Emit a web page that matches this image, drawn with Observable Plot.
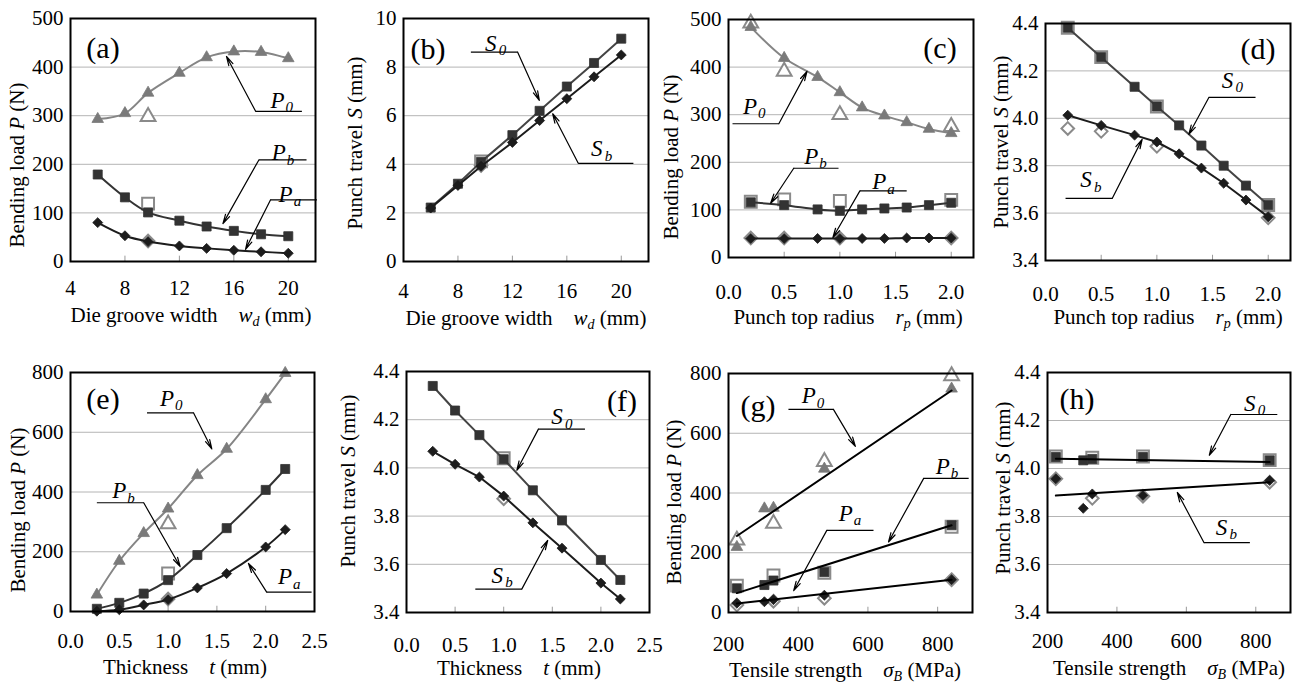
<!DOCTYPE html>
<html><head><meta charset="utf-8">
<script src="https://cdn.jsdelivr.net/npm/d3@7"></script>
<script src="https://cdn.jsdelivr.net/npm/@observablehq/plot@0.6"></script>
<style>
body{margin:0;background:#fff;}
#wrap{position:relative;width:1298px;height:685px;overflow:hidden;background:#fff;font-family:'Liberation Serif','DejaVu Serif',serif;}
#wrap svg{position:absolute;}
#wrap svg text, #wrap svg tspan{font-family:'Liberation Serif','DejaVu Serif',serif;}
</style></head><body><div id="wrap"></div>
<script>
// ---------- DATA ----------
// (a) die groove width vs bending load
const wdX = [6, 8, 9.7, 12, 14, 16, 18, 20];
const aP0 = [293, 305, 347, 388, 420, 432, 431, 418];
const aPb = [179, 132, 101, 84, 72, 63, 56, 52];
const aPa = [80, 53, 41, 32, 27, 23, 20, 17];
const wdExpX = [9.7];
const aP0exp = [298];
const aPbExp = [119];
const aPaExp = [42];
// (b) die groove width vs punch travel
const bS0 = [2.22, 3.2, 4.1, 5.2, 6.2, 7.2, 8.17, 9.17];
const bSb = [2.2, 3.13, 3.92, 4.9, 5.8, 6.7, 7.6, 8.5];
const bS0exp = [4.12];
const bSbExp = [3.95];
// (c) punch top radius vs bending load
const rpX = [0.2, 0.5, 0.8, 1.0, 1.2, 1.4, 1.6, 1.8, 2.0];
const cP0 = [484, 419, 379, 347, 315, 298, 284, 270, 261];
const cPb = [116, 110, 101, 98, 101, 103, 105, 110, 115];
const cPa = [40, 40, 40, 40, 40, 40, 41, 41, 41];
const rpExpX = [0.2, 0.5, 1.0, 2.0];
const cP0exp = [492, 391, 300, 275];
const cPbExp = [117, 122, 119, 121];
const cPaExp = [41, 41, 41, 41];
// (d) punch top radius vs punch travel
const dS0 = [4.382, 4.258, 4.133, 4.05, 3.97, 3.885, 3.80, 3.716, 3.634];
const dSb = [4.013, 3.97, 3.929, 3.90, 3.85, 3.79, 3.726, 3.655, 3.584];
const dS0exp = [4.382, 4.258, 4.05, 3.634];
const dSbExp = [3.957, 3.945, 3.882, 3.58];
// (e) thickness vs bending load
const tX = [0.27, 0.5, 0.75, 1.0, 1.3, 1.6, 2.0, 2.2];
const eP0 = [56, 169, 262, 344, 456, 544, 710, 798];
const ePb = [9, 29, 60, 105, 189, 279, 407, 477];
const ePa = [1, 6, 22, 40, 79, 127, 216, 274];
const tExpX = [1.0];
const eP0exp = [293];
const ePbExp = [127];
const ePaExp = [42];
// (f) thickness vs punch travel
const fS0 = [4.34, 4.238, 4.136, 4.036, 3.907, 3.782, 3.618, 3.535];
const fSb = [4.069, 4.015, 3.962, 3.883, 3.772, 3.667, 3.522, 3.456];
const fS0exp = [4.04];
const fSbExp = [3.872];
// (g) tensile strength vs bending load
const sigX = [224, 303, 329, 475, 840];
const gP0 = [219, 348, 350, 481, 749];
const gPb = [81, 92, 107, 135, 292];
const gPa = [31, 36, 43, 58, 110];
const sigExpX = [224, 329, 475, 840];
const gP0exp = [242, 298, 505, 792];
const gPbExp = [90, 124, 133, 287];
const gPaExp = [25, 38, 48, 110];
const fitX = [224, 840];
const gP0fit = [256, 743];
const gPbFit = [65, 292];
const gPaFit = [30, 110];
// (h) tensile strength vs punch travel
const hS0 = [4.048, 4.034, 4.04, 4.048, 4.034];
const hSb = [3.957, 3.834, 3.894, 3.887, 3.95];
const hS0exp = [4.05, 4.045, 4.05, 4.035];
const hSbExp = [3.957, 3.876, 3.884, 3.943];
const hS0fit = [4.041, 4.027];
const hSbFit = [3.887, 3.943];

// tick values
const wdTicks = [4, 8, 12, 16, 20];
const rpTicks = [0, 0.5, 1.0, 1.5, 2.0];
const tTicks = [0, 0.5, 1.0, 1.5, 2.0, 2.5];
const sigTicks = [200, 400, 600, 800];
const load500Ticks = [0, 100, 200, 300, 400, 500];
const load800Ticks = [0, 200, 400, 600, 800];
const travel10Ticks = [0, 2, 4, 6, 8, 10];
const travelTicks = [3.4, 3.6, 3.8, 4.0, 4.2, 4.4];

// annotation callouts (data coordinates): label, underline, arrow tip
const aNotes = [
  {b:"P", s:"0", lx:19.5, ly:331, u1:17.6, u2:21.0, uy:309, from:"l", tx:15.46, ty:422},
  {b:"P", s:"b", lx:19.6, ly:223, u1:17.84, u2:21.34, uy:209, from:"l", tx:15.2, ty:78},
  {b:"P", s:"a", lx:20.1, ly:138, u1:18.7, u2:22.1, uy:127, from:"l", tx:16.86, ty:25}
];
const bNotes = [
  {b:"S", s:"0", lx:10.7, ly:8.97, u1:8.95, u2:12.38, uy:8.62, from:"r", tx:13.98, ty:6.63},
  {b:"S", s:"b", lx:18.5, ly:4.64, u1:16.84, u2:20.89, uy:4.04, from:"l", tx:14.96, ty:6.08}
];
const cNotes = [
  {b:"P", s:"0", lx:0.23, ly:317, u1:0.036, u2:0.452, uy:281, from:"r", tx:0.705, ty:391},
  {b:"P", s:"b", lx:0.78, ly:212, u1:0.586, u2:0.988, uy:187.5, from:"l", tx:0.378, ty:114},
  {b:"P", s:"a", lx:1.39, ly:159, u1:1.18, u2:1.60, uy:140, from:"l", tx:0.9375, ty:42}
];
const dNotes = [
  {b:"S", s:"0", lx:1.67, ly:4.159, u1:1.467, u2:1.886, uy:4.088, from:"l", tx:1.287, ty:3.932},
  {b:"S", s:"b", lx:0.40, ly:3.74, u1:0.18, u2:0.599, uy:3.662, from:"r", tx:0.868, ty:3.911}
];
const eNotes = [
  {b:"P", s:"0", lx:1.03, ly:713, u1:0.784, u2:1.26, uy:665, from:"r", tx:1.448, ty:544},
  {b:"P", s:"b", lx:0.54, ly:403, u1:0.27, u2:0.75, uy:364, from:"r", tx:1.124, ty:150},
  {b:"P", s:"a", lx:2.24, ly:116, u1:2.01, u2:2.47, uy:65, from:"l", tx:1.823, ty:161}
];
const fNotes = [
  {b:"S", s:"0", lx:1.59, ly:4.2125, u1:1.357, u2:1.836, uy:4.161, from:"l", tx:1.135, ty:3.99},
  {b:"S", s:"b", lx:0.975, ly:3.553, u1:0.708, u2:1.186, uy:3.497, from:"r", tx:1.453, ty:3.699}
];
const gNotes = [
  {b:"P", s:"0", lx:442, ly:725, u1:372, u2:501, uy:680, from:"r", tx:564, ty:556},
  {b:"P", s:"b", lx:826, ly:489, u1:760, u2:889, uy:449, from:"l", tx:659, ty:236},
  {b:"P", s:"a", lx:548, ly:331, u1:482, u2:616, uy:275, from:"l", tx:387, ty:73}
];
const hNotes = [
  {b:"S", s:"0", lx:794, ly:4.271, u1:728, u2:862, uy:4.225, from:"l", tx:666, ty:4.055},
  {b:"S", s:"b", lx:713, ly:3.754, u1:651, u2:783, uy:3.691, from:"l", tx:574, ty:3.90}
];

// ---------- STYLE ----------
const FONT = "Liberation Serif, DejaVu Serif, serif";
const GRAY = "#7a7a7a", GRAYLINE = "#858585", DARK = "#333", DARKER = "#1c1c1c", OPEN = "#8a8a8a", GRID = "#b4b4b4";
const FS = 21;
const SYM = {
  tri:  {symbol:"triangle", r:4.3, rOpen:5.5},
  sq:   {symbol:"square",   r:5.1, rOpen:6.7},
  dia:  {symbol:"diamond2", r:4.5, rOpen:5.7}
};
const rows = (xs, ys) => xs.map((x, i) => ({x, y: ys[i]}));
const f1 = d3.format(".1f");
const SP = "\u00a0\u00a0\u00a0\u00a0";

const panels = [
  {left:0, top:0, width:325, height:340, frame:{l:70, r:315, t:18, b:261},
   xd:[4,22], xt:wdTicks, xf:d=>String(d), xpad:19, yd:[0,500], yt:load500Ticks, yf:d=>String(d), curve:"catmull-rom",
   series:[{x:wdX,y:aP0,k:"tri",fill:GRAY,line:GRAYLINE,ex:wdExpX,ey:aP0exp},
           {x:wdX,y:aPb,k:"sq",fill:DARK,line:DARK,ex:wdExpX,ey:aPbExp},
           {x:wdX,y:aPa,k:"dia",fill:DARKER,line:DARKER,ex:wdExpX,ey:aPaExp}],
   notes:aNotes, tag:"(a)", tagPos:[103,47],
   yl:["Bending load ","P"," (N)"], ylPos:[24,165],
   xl:["Die groove width"+SP,"w","d"," (mm)"], xlPos:[191,322]},
  {left:325, top:0, width:325, height:340, frame:{l:403, r:648, t:18, b:261},
   xd:[4,22], xt:wdTicks, xf:d=>String(d), xpad:22, yd:[0,10], yt:travel10Ticks, yf:d=>String(d), curve:"linear",
   series:[{x:wdX,y:bS0,k:"sq",fill:DARK,line:"#444",ex:wdExpX,ey:bS0exp},
           {x:wdX,y:bSb,k:"dia",fill:DARKER,line:DARKER,ex:wdExpX,ey:bSbExp}],
   notes:bNotes, tag:"(b)", tagPos:[428,48],
   yl:["Punch travel ","S"," (mm)"], ylPos:[362,143],
   xl:["Die groove width"+SP,"w","d"," (mm)"], xlPos:[526,325]},
  {left:650, top:0, width:325, height:340, frame:{l:728, r:973, t:19, b:257},
   xd:[0,2.2], xt:rpTicks, xf:f1, xpad:27, yd:[0,500], yt:load500Ticks, yf:d=>String(d), curve:"catmull-rom",
   series:[{x:rpX,y:cP0,k:"tri",fill:GRAY,line:GRAYLINE,ex:rpExpX,ey:cP0exp},
           {x:rpX,y:cPb,k:"sq",fill:DARK,line:DARK,ex:rpExpX,ey:cPbExp},
           {x:rpX,y:cPa,k:"dia",fill:DARKER,line:DARKER,ex:rpExpX,ey:cPaExp}],
   notes:cNotes, tag:"(c)", tagPos:[940,47],
   yl:["Bending load ","P"," (N)"], ylPos:[678,157],
   xl:["Punch top radius"+SP,"r","p"," (mm)"], xlPos:[848,324]},
  {left:975, top:0, width:323, height:340, frame:{l:1045, r:1290, t:23, b:260},
   xd:[0,2.2], xt:rpTicks, xf:f1, xpad:26, yd:[3.4,4.4], yt:travelTicks, yf:f1, curve:"linear",
   series:[{x:rpX,y:dS0,k:"sq",fill:DARK,line:"#444",ex:rpExpX,ey:dS0exp},
           {x:rpX,y:dSb,k:"dia",fill:DARKER,line:DARKER,ex:rpExpX,ey:dSbExp}],
   notes:dNotes, tag:"(d)", tagPos:[1258,48],
   yl:["Punch travel ","S"," (mm)"], ylPos:[1008,142],
   xl:["Punch top radius"+SP,"r","p"," (mm)"], xlPos:[1168,324]},
  {left:0, top:345, width:325, height:340, frame:{l:70, r:314, t:372, b:611},
   xd:[0,2.5], xt:tTicks, xf:f1, xpad:22, yd:[0,800], yt:load800Ticks, yf:d=>String(d), curve:"catmull-rom",
   series:[{x:tX,y:eP0,k:"tri",fill:GRAY,line:GRAYLINE,ex:tExpX,ey:eP0exp},
           {x:tX,y:ePb,k:"sq",fill:DARK,line:DARK,ex:tExpX,ey:ePbExp},
           {x:tX,y:ePa,k:"dia",fill:DARKER,line:DARKER,ex:tExpX,ey:ePaExp}],
   notes:eNotes, tag:"(e)", tagPos:[103,398],
   yl:["Bending load ","P"," (N)"], ylPos:[25,510],
   xl:["Thickness"+SP,"t",""," (mm)"], xlPos:[185,674]},
  {left:325, top:345, width:325, height:340, frame:{l:406, r:649, t:371, b:612},
   xd:[0,2.5], xt:tTicks, xf:f1, xpad:25, yd:[3.4,4.4], yt:travelTicks, yf:f1, curve:"linear",
   series:[{x:tX,y:fS0,k:"sq",fill:DARK,line:"#444",ex:tExpX,ey:fS0exp},
           {x:tX,y:fSb,k:"dia",fill:DARKER,line:DARKER,ex:tExpX,ey:fSbExp}],
   notes:fNotes, tag:"(f)", tagPos:[622,400],
   yl:["Punch travel ","S"," (mm)"], ylPos:[355,481],
   xl:["Thickness"+SP,"t",""," (mm)"], xlPos:[519,675]},
  {left:650, top:345, width:325, height:340, frame:{l:728, r:972, t:373, b:612},
   xd:[200,900], xt:sigTicks, xf:d=>String(d), xpad:24, yd:[0,800], yt:load800Ticks, yf:d=>String(d), curve:"linear",
   series:[{x:sigX,y:gP0,k:"tri",fill:GRAY,ex:sigExpX,ey:gP0exp,fit:gP0fit},
           {x:sigX,y:gPb,k:"sq",fill:DARK,ex:sigExpX,ey:gPbExp,fit:gPbFit},
           {x:sigX,y:gPa,k:"dia",fill:DARKER,ex:sigExpX,ey:gPaExp,fit:gPaFit}],
   notes:gNotes, tag:"(g)", tagPos:[758,405],
   yl:["Bending load ","P"," (N)"], ylPos:[681,502],
   xl:["Tensile strength"+SP,"\u03c3","B"," (MPa)"], xlPos:[845,677]},
  {left:975, top:345, width:323, height:340, frame:{l:1047, r:1290, t:372, b:612},
   xd:[200,900], xt:sigTicks, xf:d=>String(d), xpad:21, yd:[3.4,4.4], yt:travelTicks, yf:f1, curve:"linear",
   series:[{x:sigX,y:hS0,k:"sq",fill:DARK,ex:sigExpX,ey:hS0exp,fit:hS0fit},
           {x:sigX,y:hSb,k:"dia",fill:DARKER,ex:sigExpX,ey:hSbExp,fit:hSbFit}],
   notes:hNotes, tag:"(h)", tagPos:[1077,398],
   yl:["Punch travel ","S"," (mm)"], ylPos:[1010,488],
   xl:["Tensile strength"+SP,"\u03c3","B"," (MPa)"], xlPos:[1169,675]}
];

const wrap = document.getElementById("wrap");

for (const p of panels) {
  const f = p.frame;
  const yr = p.yd[1] - p.yd[0];
  const inner = p.xt.filter(v => v > p.xd[0] && v < p.xd[1]);
  const gridT = p.yt.filter(v => v > p.yd[0] && v < p.yd[1]);
  const marks = [];
  marks.push(Plot.gridY(gridT, {stroke: GRID, strokeOpacity: 1, strokeWidth: 1}));
  marks.push(Plot.ruleX(inner, {y1: p.yd[0], y2: p.yd[0] + yr * 0.022, stroke: "#999", strokeWidth: 1}));
  for (const s of p.series) {
    const sym = SYM[s.k];
    marks.push(Plot.dot(rows(s.ex, s.ey), {x: "x", y: "y", symbol: sym.symbol, r: sym.rOpen, fill: "white", stroke: OPEN, strokeWidth: 2}));
  }
  for (const s of p.series) {
    const sym = SYM[s.k];
    if (s.line) marks.push(Plot.line(rows(s.x, s.y), {x: "x", y: "y", stroke: s.line, strokeWidth: 2, curve: p.curve}));
    marks.push(Plot.dot(rows(s.x, s.y), {x: "x", y: "y", symbol: sym.symbol, r: sym.r, fill: s.fill, stroke: s.fill, strokeWidth: 0.8}));
  }
  for (const s of p.series) {
    if (s.fit) marks.push(Plot.line(rows(fitX, s.fit), {x: "x", y: "y", stroke: "black", strokeWidth: 2}));
  }
  const N = p.notes;
  marks.push(Plot.link(N, {x1: "u1", x2: "u2", y1: "uy", y2: "uy", stroke: "black", strokeWidth: 1.2}));
  marks.push(Plot.arrow(N, {x1: d => d.from === "l" ? d.u1 : d.u2, y1: "uy", x2: "tx", y2: "ty", stroke: "black", strokeWidth: 1.2, headLength: 12, headAngle: 28}));
  marks.push(Plot.text(N, {x: "lx", y: "ly", text: "b", dx: -4, fontSize: 23, fontStyle: "italic", fill: "black", fontFamily: FONT}));
  marks.push(Plot.text(N, {x: "lx", y: "ly", text: "s", dx: 4, dy: 7, textAnchor: "start", fontSize: 15, fontStyle: "italic", fill: "black", fontFamily: FONT}));
  marks.push(Plot.axisX(p.xt, {tickSize: 0, tickPadding: p.xpad, tickFormat: p.xf, label: null, fontSize: FS}));
  marks.push(Plot.axisY(p.yt, {tickSize: 0, tickPadding: 7, tickFormat: p.yf, label: null, fontSize: FS}));
  marks.push(Plot.frame({stroke: "black", strokeWidth: 2}));

  const svg = Plot.plot({
    width: p.width, height: p.height,
    marginLeft: f.l - p.left, marginRight: p.left + p.width - f.r,
    marginTop: f.t - p.top, marginBottom: p.top + p.height - f.b,
    x: {domain: p.xd}, y: {domain: p.yd},
    style: {fontFamily: FONT, fontSize: FS + "px", color: "black", background: "transparent", overflow: "visible"},
    marks
  });
  svg.style.left = p.left + "px";
  svg.style.top = p.top + "px";
  svg.style.maxWidth = "none";
  const S = d3.select(svg);
  S.append("text").attr("x", p.tagPos[0] - p.left).attr("y", p.tagPos[1] - p.top)
    .attr("text-anchor", "middle").attr("dominant-baseline", "central")
    .style("font-size", "30px").attr("fill", "black").text(p.tag);
  const yt = S.append("text")
    .attr("transform", `translate(${p.ylPos[0] - p.left},${p.ylPos[1] - p.top}) rotate(-90)`)
    .attr("text-anchor", "middle").style("font-size", FS + "px").attr("fill", "black");
  yt.append("tspan").text(p.yl[0]);
  yt.append("tspan").style("font-style", "italic").text(p.yl[1]);
  yt.append("tspan").text(p.yl[2]);
  const xt = S.append("text").attr("x", p.xlPos[0] - p.left).attr("y", p.xlPos[1] - p.top)
    .attr("text-anchor", "middle").style("font-size", FS + "px").attr("fill", "black")
    .style("white-space", "pre");
  xt.append("tspan").text(p.xl[0]);
  xt.append("tspan").style("font-style", "italic").text(p.xl[1]);
  if (p.xl[2]) {
    xt.append("tspan").style("font-style", "italic").style("font-size", "14px").attr("dy", 4).text(p.xl[2]);
    xt.append("tspan").attr("dy", -4).text(p.xl[3]);
  } else {
    xt.append("tspan").text(p.xl[3]);
  }
  wrap.appendChild(svg);
}
</script>
</body></html>
